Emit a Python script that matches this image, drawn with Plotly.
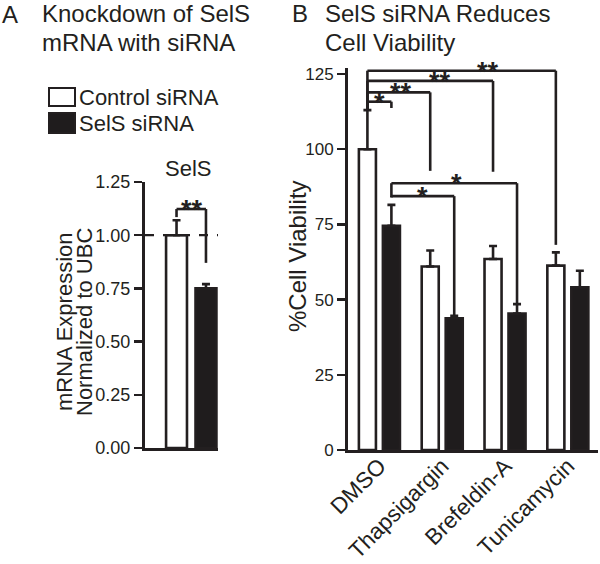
import plotly.graph_objects as go

# ---------------- data ----------------
series_names = ["Control siRNA", "SelS siRNA"]

A_category = ["SelS"]
A_control = [1.00]
A_control_err = [0.07]
A_sels = [0.75]
A_sels_err = [0.02]
A_ticks = [0.0, 0.25, 0.50, 0.75, 1.00, 1.25]

B_categories = ["DMSO", "Thapsigargin", "Brefeldin-A", "Tunicamycin"]
B_control = [100.0, 61.0, 63.5, 61.3]
B_control_err = [13.0, 5.3, 4.3, 4.4]
B_sels = [74.5, 43.8, 45.4, 54.1]
B_sels_err = [7.0, 0.8, 3.1, 5.5]
B_ticks = [0, 25, 50, 75, 100, 125]

# significance brackets:
# (from_cat, from_series, to_cat, to_series, level, left_leg_end, right_leg_end, label, label_frac)
A_brackets = [(0, 0, 0, 1, 1.123, 1.085, 0.87, "**", 0.53)]
B_brackets = [
    (0, 0, 0, 1, 115.8, 113.0, 113.7, "*", 0.50),
    (0, 0, 1, 0, 118.9, 113.0, 92.8, "**", 0.54),
    (0, 0, 2, 0, 122.7, 113.0, 92.5, "**", 0.58),
    (0, 0, 3, 0, 126.1, 113.0, 68.2, "**", 0.64),
    (0, 1, 2, 1, 88.7, 84.0, 48.2, "*", 0.52),
    (0, 1, 1, 1, 84.4, 84.0, 44.6, "*", 0.50),
]

# ---------------- style ----------------
W, H = 600, 564
FONT = "Arial, 'Liberation Sans', sans-serif"
INK = "#231f20"
BLACKFILL = "#1f1c1d"
LW = 2.6
BARGAP = 0.236
BARGROUPGAP = 0.29
SLOT = (1 - BARGAP) / 2
B_TOP = 127.0  # axis headroom so the top bracket is drawn


def px(x):
    return x / W


def py(y):
    return 1 - y / H


fig = go.Figure()
fills = ["white", BLACKFILL]

# Panel A bars
for i, (vals, errs) in enumerate([(A_control, A_control_err), (A_sels, A_sels_err)]):
    fig.add_trace(go.Bar(
        x=A_category, y=vals, name=series_names[i], xaxis="x", yaxis="y",
        marker=dict(color=fills[i], line=dict(color=INK, width=LW)),
        error_y=dict(type="data", symmetric=False, array=errs, arrayminus=[0] * len(errs),
                     color=INK, thickness=LW, width=4),
        offsetgroup=str(i), showlegend=False, hoverinfo="skip",
    ))

# Panel B bars
for i, (vals, errs) in enumerate([(B_control, B_control_err), (B_sels, B_sels_err)]):
    fig.add_trace(go.Bar(
        x=B_categories, y=vals, name=series_names[i], xaxis="x2", yaxis="y2",
        marker=dict(color=fills[i], line=dict(color=INK, width=LW)),
        error_y=dict(type="data", symmetric=False, array=errs, arrayminus=[0] * len(errs),
                     color=INK, thickness=LW, width=4),
        offsetgroup=str(i), showlegend=False, hoverinfo="skip",
    ))

shapes = []
annotations = []


def bar_x(cat, series):
    return cat + (-SLOT / 2 if series == 0 else SLOT / 2)


def add_brackets(brackets, xr, yr):
    for (c0, s0, c1, s1, lvl, lleg, rleg, lab, frac) in brackets:
        x0 = bar_x(c0, s0)
        x1 = bar_x(c1, s1)
        line = dict(color=INK, width=LW)
        shapes.append(dict(type="line", xref=xr, yref=yr, x0=x0, x1=x1, y0=lvl, y1=lvl, line=line))
        shapes.append(dict(type="line", xref=xr, yref=yr, x0=x0, x1=x0, y0=lvl, y1=lleg, line=line))
        shapes.append(dict(type="line", xref=xr, yref=yr, x0=x1, x1=x1, y0=lvl, y1=rleg, line=line))
        annotations.append(dict(
            xref=xr, yref=yr, x=x0 + frac * (x1 - x0), y=lvl, text="<b>%s</b>" % lab,
            showarrow=False, xanchor="center", yanchor="bottom", yshift=-18,
            font=dict(family=FONT, size=27, color=INK),
        ))


add_brackets(A_brackets, "x", "y")
add_brackets(B_brackets, "x2", "y2")

# dashed reference line at 1.00 in panel A
shapes.append(dict(type="line", xref="x domain", yref="y", x0=0, x1=1, y0=1.0, y1=1.0,
                   line=dict(color=INK, width=2.2, dash="dash")))

# legend (manual)
legend_rows = [(88, 106), (113, 133)]
for i, (t, b) in enumerate(legend_rows):
    shapes.append(dict(type="rect", xref="paper", yref="paper",
                       x0=px(49), x1=px(75), y0=py(b), y1=py(t),
                       fillcolor=fills[i], line=dict(color=INK, width=2)))
    annotations.append(dict(xref="paper", yref="paper", x=px(77), y=py((t + b) / 2),
                            text=series_names[i], showarrow=False, xanchor="left", yanchor="middle",
                            font=dict(family=FONT, size=22, color=INK)))


def text(x, y, s, size, anchor="left", angle=0):
    annotations.append(dict(xref="paper", yref="paper", x=px(x), y=py(y), text=s,
                            showarrow=False, xanchor=anchor, yanchor="middle", textangle=angle,
                            font=dict(family=FONT, size=size, color=INK)))


# titles
text(0, 15, "A", 24)
text(40, 14, "Knockdown of SelS", 24)
text(40, 42, "mRNA with siRNA", 24)
text(290, 13, "B", 24)
text(323, 13, "SelS siRNA Reduces", 24)
text(323, 42, "Cell Viability", 24)
text(188, 169, A_category[0], 22, anchor="center")

# y-axis titles
text(64, 322, "mRNA Expression", 22, anchor="center", angle=-90)
text(84, 322, "Normalized to UBC", 22, anchor="center", angle=-90)
text(297, 256, "%Cell Viability", 24, anchor="center", angle=-90)

axis_common = dict(showline=True, linecolor=INK, linewidth=3, showgrid=False, zeroline=False,
                   automargin=False)

b_px_per_unit = (450 - 74) / 125.0

fig.update_layout(
    width=W, height=H,
    margin=dict(l=0, r=0, t=0, b=0, pad=0, autoexpand=False),
    paper_bgcolor="white", plot_bgcolor="white",
    barmode="group", bargap=BARGAP, bargroupgap=BARGROUPGAP,
    showlegend=False, hovermode=False,
    font=dict(family=FONT, color=INK),
    xaxis=dict(domain=[px(145), px(218)], type="category", range=[-0.6, 0.347],
               showticklabels=False, ticks="", anchor="y", **axis_common),
    yaxis=dict(domain=[py(448), py(182)], range=[0, 1.25], tickvals=A_ticks, tickformat=".2f",
               ticks="outside", ticklen=8, tickwidth=2.5, tickcolor=INK,
               tickfont=dict(family=FONT, size=18, color=INK), anchor="x", **axis_common),
    xaxis2=dict(domain=[px(348), px(598)], type="category", range=[-0.5, 3.48],
                ticks="", tickangle=-45, ticklabelstandoff=-9,
                tickfont=dict(family=FONT, size=22.5, color=INK),
                anchor="y2", **axis_common),
    yaxis2=dict(domain=[py(450), py(450 - B_TOP * b_px_per_unit)], range=[0, B_TOP],
                tickvals=B_ticks,
                ticks="outside", ticklen=8, tickwidth=2.5, tickcolor=INK,
                tickfont=dict(family=FONT, size=17, color=INK), anchor="x2", **axis_common),
    shapes=shapes,
    annotations=annotations,
)

fig.write_html("out.html", config={"displayModeBar": False, "staticPlot": True},
               post_script="document.body.style.margin='0px';")
